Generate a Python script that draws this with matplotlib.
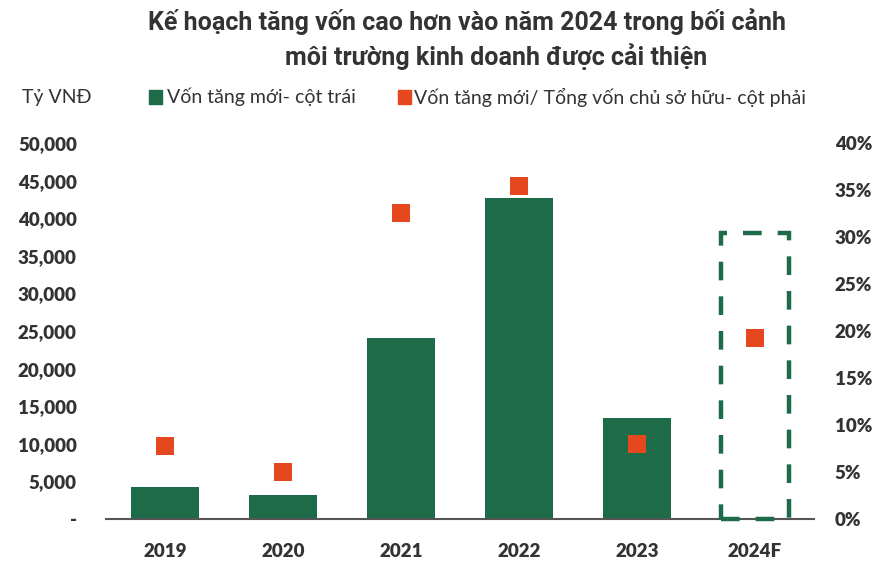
import matplotlib
matplotlib.use("Agg")
import matplotlib.pyplot as plt
from matplotlib.ticker import FuncFormatter

categories = ["2019", "2020", "2021", "2022", "2023", "2024F"]
new_capital = [4250, 3200, 24100, 42700, 13400, 38000]   # Tỷ VNĐ (2024F plan shown dashed)
ratio = [0.078, 0.050, 0.326, 0.354, 0.080, 0.193]       # right axis
left_ticks = [0, 5000, 10000, 15000, 20000, 25000, 30000, 35000, 40000, 45000, 50000]
right_ticks = [0, 0.05, 0.10, 0.15, 0.20, 0.25, 0.30, 0.35, 0.40]

GREEN = "#1d6b48"
ORANGE = "#e5471f"
TXT = "#333333"
FONT = ["Lato", "DejaVu Sans"]

fig = plt.figure(figsize=(8.83, 5.65), dpi=100)
ax = fig.add_axes([106/883, 46/565, 708/883, 376/565])
ax2 = ax.twinx()

x = list(range(len(categories)))
solid_x = x[:-1]
ax.bar(solid_x, new_capital[:-1], width=0.57, color=GREEN, zorder=2)
box = ax.bar([x[-1]], [new_capital[-1]], width=0.57, fill=False, edgecolor=GREEN,
             linewidth=3.2, linestyle=(0, (4.2, 3.6)), zorder=3)
for p in box:
    p.set_clip_on(False)

ax2.scatter(x, ratio, marker="s", s=150, color=ORANGE, zorder=3, linewidths=0)

ax.set_xlim(-0.5, 5.5)
ax.set_ylim(0, 50000)
ax2.set_ylim(0, 0.40)
ax.set_yticks(left_ticks)
ax2.set_yticks(right_ticks)
ax.yaxis.set_major_formatter(FuncFormatter(lambda v, p: "-" if v == 0 else f"{int(v):,}"))
ax2.yaxis.set_major_formatter(FuncFormatter(lambda v, p: f"{int(round(v*100))}%"))
ax.set_xticks(x)
ax.set_xticklabels(categories)

for a in (ax, ax2):
    for s in a.spines.values():
        s.set_visible(False)
    a.tick_params(length=0)
ax.spines["bottom"].set_visible(True)
ax.spines["bottom"].set_color("#555555")
ax.spines["bottom"].set_linewidth(1.5)
ax.spines["bottom"].set_zorder(2.5)

ax.tick_params(axis="y", pad=21, labelsize=13.5, labelcolor=TXT)
ax2.tick_params(axis="y", pad=15, labelsize=13.5, labelcolor=TXT)
ax.tick_params(axis="x", pad=17, labelsize=13.5, labelcolor=TXT)
for lab in ax.get_yticklabels() + ax2.get_yticklabels() + ax.get_xticklabels():
    lab.set_fontfamily(FONT)
    lab.set_fontweight("heavy")

fig.text(467/883, 1 - 22/565, "Kế hoạch tăng vốn cao hơn vào năm 2024 trong bối cảnh",
         ha="center", va="center", fontsize=18, fontweight="bold", color=TXT, family=["Roboto", "DejaVu Sans"])
fig.text(496/883, 1 - 57/565, "môi trường kinh doanh được cải thiện",
         ha="center", va="center", fontsize=18, fontweight="bold", color=TXT, family=["Roboto", "DejaVu Sans"])

ly = 1 - 97/565
fig.text(22/883, ly, "Tỷ VNĐ", ha="left", va="center", fontsize=14, color=TXT, family=FONT)
fig.patches.append(plt.Rectangle((149/883, ly - 7/565), 13/883, 14/565, transform=fig.transFigure,
                                 color=GREEN, figure=fig))
fig.text(167/883, ly, "Vốn tăng mới- cột trái", ha="left", va="center", fontsize=14, color=TXT, family=FONT)
fig.patches.append(plt.Rectangle((398/883, ly - 7/565), 13/883, 14/565, transform=fig.transFigure,
                                 color=ORANGE, figure=fig))
fig.text(414/883, ly, "Vốn tăng mới/ Tổng vốn chủ sở hữu- cột phải", ha="left", va="center",
         fontsize=14, color=TXT, family=FONT)

fig.savefig("out.png", dpi=100)
